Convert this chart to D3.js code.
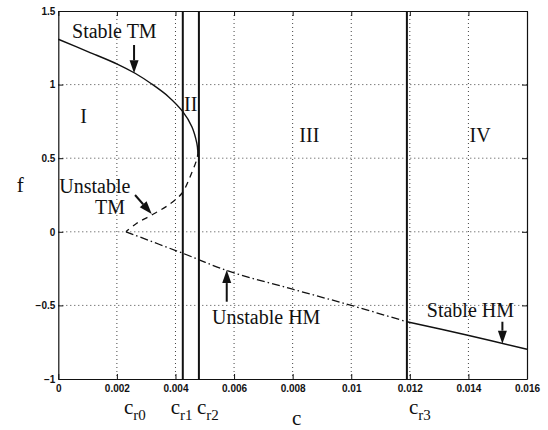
<!DOCTYPE html>
<html>
<head>
<meta charset="utf-8">
<script src="https://cdn.jsdelivr.net/npm/d3@7"></script>
<style>
  body { margin: 0; background: #fff; }
  svg { display: block; }
  .tick text { font-family: "Liberation Sans", Arial, sans-serif; font-weight: bold; font-size: 10px; }
  .lbl { font-family: "Liberation Serif", "Times New Roman", serif; fill: #111; }
</style>
</head>
<body>
<svg id="chart"></svg>
<script>
// Axis ticks
const xTicks = [0, 0.002, 0.004, 0.006, 0.008, 0.01, 0.012, 0.014, 0.016];
const yTicks = [-1, -0.5, 0, 0.5, 1, 1.5];

// Stable TM branch (solid), upper part of the fold
const stableTMc = [0, 0.001025, 0.00203, 0.00262, 0.00319, 0.00376, 0.00425, 0.00456, 0.00473, 0.00476];
const stableTMf = [1.308, 1.223, 1.138, 1.077, 1.004, 0.918, 0.816, 0.714, 0.601, 0.55];

// Unstable TM branch (dashed), lower part of the fold
const unstableTMc = [0.00476, 0.00475, 0.0045, 0.00422, 0.00376, 0.00319, 0.00268, 0.00231];
const unstableTMf = [0.55, 0.51, 0.374, 0.262, 0.182, 0.114, 0.058, 0.0];

// Unstable HM branch (dash-dot)
const unstableHMc = [0.00231, 0.00425, 0.00587, 0.008, 0.01, 0.0119];
const unstableHMf = [0.0, -0.146, -0.271, -0.39, -0.5, -0.611];

// Stable HM branch (solid)
const stableHMc = [0.0119, 0.01394, 0.016];
const stableHMf = [-0.611, -0.701, -0.798];

// Critical values
const critNames = ["0", "1", "2", "3"];
const critValues = [0.00231, 0.00425, 0.0048, 0.0119];
const critLines = [false, true, true, true];

// Region labels
const regionNames = ["I", "II", "III", "IV"];
const regionC = [0.00086, 0.00452, 0.00857, 0.0144];
const regionF = [0.739, 0.82, 0.607, 0.607];

// Branch annotations
const noteTexts = ["Stable TM", "Unstable", "TM", "Unstable HM", "Stable HM"];
const noteC = [0.000468, 0.000034, 0.00125, 0.00525, 0.01258];
const noteF = [1.317, 0.262, 0.121, -0.626, -0.577];

// Annotation arrows: [c0, f0, c1, f1]
const arrows = [
  [0.002586, 1.269, 0.002586, 1.077],
  [0.00262, 0.25, 0.00319, 0.121],
  [0.00575, -0.475, 0.00575, -0.26],
  [0.01516, -0.611, 0.01516, -0.760]
];

const svgWidth = 548, svgHeight = 430;
const margin = { top: 11, right: 21, bottom: 51, left: 58.3 };
const width = svgWidth - margin.left - margin.right;
const height = svgHeight - margin.top - margin.bottom;

const root = d3.select("#chart").attr("width", svgWidth).attr("height", svgHeight);
const svg = root.append("g").attr("transform", `translate(${margin.left},${margin.top})`);

const x = d3.scaleLinear().domain([0, 0.016]).range([0, width]);
const y = d3.scaleLinear().domain([-1, 1.5]).range([height, 0]);

// Dotted grid
svg.append("g").selectAll("line")
  .data(xTicks.slice(1, -1))
  .join("line")
  .attr("x1", d => x(d)).attr("x2", d => x(d))
  .attr("y1", 0).attr("y2", height)
  .attr("stroke", "#444").attr("stroke-width", 1).attr("stroke-dasharray", "1,3");

svg.append("g").selectAll("line")
  .data(yTicks.slice(1, -1))
  .join("line")
  .attr("x1", 0).attr("x2", width)
  .attr("y1", d => y(d)).attr("y2", d => y(d))
  .attr("stroke", "#444").attr("stroke-width", 1).attr("stroke-dasharray", "1,3");

// Axes with inward ticks
const fmtX = d => d === 0 ? "0" : String(+d.toFixed(3));
const fmtY = d => d < 0 ? "\u2212" + String(-d) : String(d);

svg.append("g")
  .attr("transform", `translate(0,${height})`)
  .call(d3.axisBottom(x).tickValues(xTicks).tickFormat(fmtX).tickSizeInner(-5).tickSizeOuter(0).tickPadding(6));
svg.append("g")
  .call(d3.axisLeft(y).tickValues(yTicks).tickFormat(fmtY).tickSizeInner(-5).tickSizeOuter(0).tickPadding(3));
svg.append("g")
  .call(d3.axisTop(x).tickValues(xTicks).tickFormat("").tickSizeInner(-5).tickSizeOuter(0));
svg.append("g")
  .attr("transform", `translate(${width},0)`)
  .call(d3.axisRight(y).tickValues(yTicks).tickFormat("").tickSizeInner(-5).tickSizeOuter(0));

svg.selectAll(".domain").attr("stroke", "#111").attr("stroke-width", 1.2);
svg.selectAll(".tick line").attr("stroke", "#111");
svg.selectAll(".tick text").attr("fill", "#111");

// Critical vertical lines
svg.append("g").selectAll("line")
  .data(critValues.filter((d, i) => critLines[i]))
  .join("line")
  .attr("x1", d => x(d)).attr("x2", d => x(d))
  .attr("y1", 0).attr("y2", height)
  .attr("stroke", "#111").attr("stroke-width", 2);

// Branch curves
const line = d3.line().x(d => x(d[0])).y(d => y(d[1])).curve(d3.curveCatmullRom);
const zip = (a, b) => a.map((v, i) => [v, b[i]]);

svg.append("path").attr("d", line(zip(stableTMc, stableTMf)))
  .attr("fill", "none").attr("stroke", "#111").attr("stroke-width", 1.4);
svg.append("path").attr("d", line(zip(unstableTMc, unstableTMf)))
  .attr("fill", "none").attr("stroke", "#111").attr("stroke-width", 1.3).attr("stroke-dasharray", "6,5");
svg.append("path").attr("d", line(zip(unstableHMc, unstableHMf)))
  .attr("fill", "none").attr("stroke", "#111").attr("stroke-width", 1.3).attr("stroke-dasharray", "8,3,1.5,3");
svg.append("path").attr("d", line(zip(stableHMc, stableHMf)))
  .attr("fill", "none").attr("stroke", "#111").attr("stroke-width", 1.4);

// Region labels
svg.append("g").selectAll("text")
  .data(regionNames)
  .join("text")
  .attr("class", "lbl")
  .attr("x", (d, i) => x(regionC[i]))
  .attr("y", (d, i) => y(regionF[i]))
  .attr("text-anchor", "middle")
  .attr("font-size", 20)
  .text(d => d);

// Branch annotations
svg.append("g").selectAll("text")
  .data(noteTexts)
  .join("text")
  .attr("class", "lbl")
  .attr("x", (d, i) => x(noteC[i]))
  .attr("y", (d, i) => y(noteF[i]))
  .attr("font-size", 20)
  .text(d => d);

// Arrows
arrows.forEach(a => {
  const x0 = x(a[0]), y0 = y(a[1]), x1 = x(a[2]), y1 = y(a[3]);
  const ang = Math.atan2(y1 - y0, x1 - x0);
  const headLen = 13, headW = 4.5;
  const bx = x1 - headLen * Math.cos(ang), by = y1 - headLen * Math.sin(ang);
  svg.append("line")
    .attr("x1", x0).attr("y1", y0).attr("x2", bx).attr("y2", by)
    .attr("stroke", "#111").attr("stroke-width", 2);
  const px = -Math.sin(ang) * headW, py = Math.cos(ang) * headW;
  svg.append("path")
    .attr("d", `M${x1},${y1}L${bx + px},${by + py}L${bx - px},${by - py}Z`)
    .attr("fill", "#111");
});

// Critical value labels c_r0 .. c_r3
const critDx = [-2, -12, -2, 2];
const critLbl = svg.append("g").selectAll("text")
  .data(critNames)
  .join("text")
  .attr("class", "lbl")
  .attr("x", (d, i) => x(critValues[i]) + critDx[i])
  .attr("y", height + 35)
  .attr("font-size", 21);
critLbl.append("tspan").text("c");
critLbl.append("tspan").attr("font-size", 15).attr("dy", 6).text(d => "r" + d);

// Axis labels
svg.append("text").attr("class", "lbl")
  .attr("x", width / 2 + 4).attr("y", height + 46)
  .attr("text-anchor", "middle").attr("font-size", 21)
  .text("c");
svg.append("text").attr("class", "lbl")
  .attr("x", -38).attr("y", y(0.27))
  .attr("text-anchor", "middle").attr("font-size", 21)
  .text("f");
</script>
</body>
</html>
